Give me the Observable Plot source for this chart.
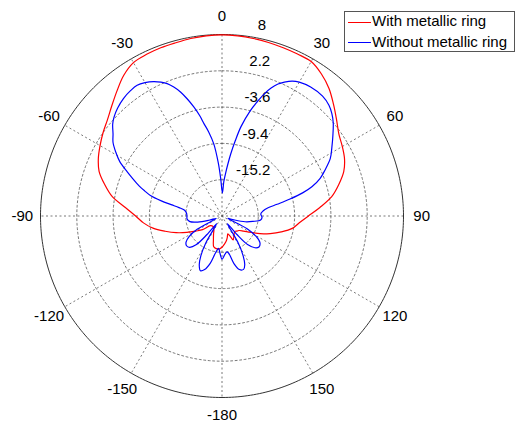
<!DOCTYPE html>
<html><head><meta charset="utf-8">
<script src="https://cdn.jsdelivr.net/npm/d3@7"></script>
<script src="https://cdn.jsdelivr.net/npm/@observablehq/plot@0.6"></script>
<style>
body{margin:0;background:#fff;font-family:"Liberation Sans",Arial,sans-serif;}
#wrap{position:relative;width:517px;height:424px;overflow:hidden;}
#legend{position:absolute;left:344px;top:11px;width:171px;height:41px;box-sizing:border-box;border:1px solid #555;background:#fff;font-size:15px;color:#000;}
.row{position:absolute;left:0;height:20px;line-height:20px;white-space:nowrap;}
.sw{display:inline-block;width:23px;height:0;vertical-align:middle;margin-left:3px;margin-right:1px;}
</style></head><body><div id="wrap"></div>
<script>
// ---- data ----
const redAngles = [-180,-175,-170,-165,-160,-155,-150,-140,-130,-125,-120,-115,-110,-105,-100,-95,-90,-85,-80,-75,-70,-65,-60,-55,-50,-45,-40,-35,-30,-25,-20,-15,-10,-5,0,5,10,15,20,25,30,35,40,45,50,55,60,65,70,75,80,85,90,95,100,105,110,115,120,125,130,135,140,145,150,155,158,162,166,170,175];
const redValues = [-16.0,-15.7,-15.7,-15.9,-17.0,-17.8,-18.4,-18.8,-18.6,-17.2,-16.2,-14.8,-13.2,-11.6,-9.8,-8.4,-7.2,-5.5,-3.2,-1.6,-0.1,0.8,1.5,2.2,2.9,3.9,5.1,6.4,7.3,7.5,7.6,7.65,7.8,7.9,7.95,7.9,7.8,7.7,7.6,7.55,7.5,6.7,5.6,4.2,2.9,1.8,1.2,0.6,-0.3,-1.7,-3.2,-5.3,-7.2,-8.6,-9.6,-11.2,-12.8,-14.3,-15.8,-16.8,-17.4,-17.6,-17.8,-17.6,-17.2,-16.8,-17.5,-18.0,-17.5,-17.0,-16.5];
const blueAngles = [-180,-177,-174,-170,-166,-162,-158.5,-155,-152,-149,-145,-141,-138,-134,-130,-126,-122,-118,-113,-108,-104,-100,-95,-90,-85,-81,-79,-77.5,-76,-74,-72,-70,-67,-65,-62,-59,-56,-53,-50,-47.5,-44,-40,-36,-33,-30,-27,-24.5,-22.5,-20.5,-18.5,-16.5,-14.5,-12.5,-11,-9,-6.5,-4,-2,1,3,5,6.5,8,10,12,15,17,19,21,23,25,27.5,30,34.5,40,44,47,50,54,58,62,66,69,72,74,76,78,80,83,87,92,96,100,104,108,112,117,121,125,130,134,138,141,145,149,152,155,158,162,166,170,172.5,176];
const blueValues = [-14.1,-15.0,-15.8,-15.0,-13.2,-12.0,-11.6,-12.4,-13.8,-16.0,-19.5,-17.2,-14.8,-13.8,-13.6,-13.9,-14.8,-16.5,-20.0,-18.8,-17.0,-15.8,-15.4,-15.4,-15.3,-14.9,-14.0,-12.8,-11.0,-9.1,-8.0,-6.9,-5.4,-4.3,-2.5,-1.2,0.0,0.8,1.8,2.4,3.0,3.5,3.8,3.9,3.6,3.1,2.5,1.9,1.0,-0.1,-1.5,-3.0,-4.6,-6.0,-7.4,-9.4,-12.5,-15.0,-17.3,-15.5,-14.0,-12.6,-11.0,-8.8,-6.4,-3.6,-2.0,-0.4,0.9,1.9,2.6,3.3,3.7,4.0,4.0,3.6,3.0,2.2,0.9,-0.3,-1.4,-3.0,-4.2,-5.9,-7.6,-9.8,-12.0,-13.6,-14.4,-14.8,-14.6,-14.8,-16.0,-17.2,-19.0,-20.0,-16.5,-14.6,-13.6,-13.3,-13.7,-14.8,-17.2,-19.5,-16.0,-13.8,-12.4,-11.8,-12.0,-13.2,-15.0,-15.2,-14.8];
const seriesNames = ["With metallic ring","Without metallic ring"];
const seriesColors = ["#ff0000","#0000ff"];
const angleTicks = [0,30,60,90,120,150,180,-150,-120,-90,-60,-30];
const angleLabels = ["0","30","60","90","120","150","-180","-150","-120","-90","-60","-30"];
const ringValues = [8,2.2,-3.6,-9.4,-15.2];
const ringLabels = ["8","2.2","-3.6","-9.4","-15.2"];
const rMin = -21, rMax = 8;

// ---- layout ----
const W = 517, H = 424, cx = 221.5, cy = 215.5, Rpx = 181.5;
const k = Rpx / (rMax - rMin);
const rad = d => d * Math.PI / 180;
const P = (a, v) => ({x: (v - rMin) * Math.sin(rad(a)), y: (v - rMin) * Math.cos(rad(a))});

const red = redAngles.map((a, i) => P(a, redValues[i]));
const blue = blueAngles.map((a, i) => P(a, blueValues[i]));

const circ = d3.range(0, 361, 1);
const rings = [];
ringValues.forEach(v => circ.forEach(a => rings.push({...P(a, v), ring: v})));
const inner = rings.filter(d => d.ring !== rMax);
const outer = rings.filter(d => d.ring === rMax);
const spokes = d3.range(0, 180, 30).map(a => {
  const p = P(a, rMax), q = P(a + 180, rMax);
  return {x1: p.x, y1: p.y, x2: q.x, y2: q.y};
});
const tickPos = angleTicks.map((a, i) => ({...P(a, rMin + 1.1 * (rMax - rMin)), label: angleLabels[i]}));
const ringLab = ringValues.map((v, i) => {
  const r = v - rMin;
  return {x: (29 + 0.06 * r * k) / k, y: r, label: ringLabels[i]};
});

const plot = Plot.plot({
  width: W, height: H, margin: 0,
  style: {fontFamily: '"Liberation Sans", Arial, sans-serif', background: "#fff"},
  x: {domain: [-cx / k, (W - cx) / k], axis: null},
  y: {domain: [-(H - cy) / k, cy / k], axis: null},
  marks: [
    Plot.line(inner, {x: "x", y: "y", z: "ring", stroke: "#555", strokeWidth: 0.8, strokeDasharray: "2,2.5"}),
    Plot.link(spokes, {x1: "x1", y1: "y1", x2: "x2", y2: "y2", stroke: "#555", strokeWidth: 0.8, strokeDasharray: "2,2.5"}),
    Plot.line(outer, {x: "x", y: "y", stroke: "#333", strokeWidth: 1}),
    Plot.text(tickPos, {x: "x", y: "y", text: "label", fontSize: 15, fill: "#000", textAnchor: "middle", lineAnchor: "middle"}),
    Plot.text(ringLab, {x: "x", y: "y", text: "label", fontSize: 15, fill: "#000", textAnchor: "middle", lineAnchor: "middle", dy: -9.5}),
    Plot.line(red, {x: "x", y: "y", stroke: seriesColors[0], strokeWidth: 1.2, curve: "catmull-rom-closed"}),
    Plot.line(blue, {x: "x", y: "y", stroke: seriesColors[1], strokeWidth: 1.2, curve: "catmull-rom-closed"})
  ]
});
const wrap = document.getElementById("wrap");
wrap.appendChild(plot);

const leg = document.createElement("div");
leg.id = "legend";
seriesNames.forEach((n, i) => {
  const row = document.createElement("div");
  row.className = "row";
  row.style.top = (i === 0 ? -1 : 19.5) + "px";
  const sw = document.createElement("span");
  sw.className = "sw";
  sw.style.borderTop = "1px solid " + seriesColors[i];
  row.appendChild(sw);
  row.appendChild(document.createTextNode(n));
  leg.appendChild(row);
});
wrap.appendChild(leg);
</script></body></html>
